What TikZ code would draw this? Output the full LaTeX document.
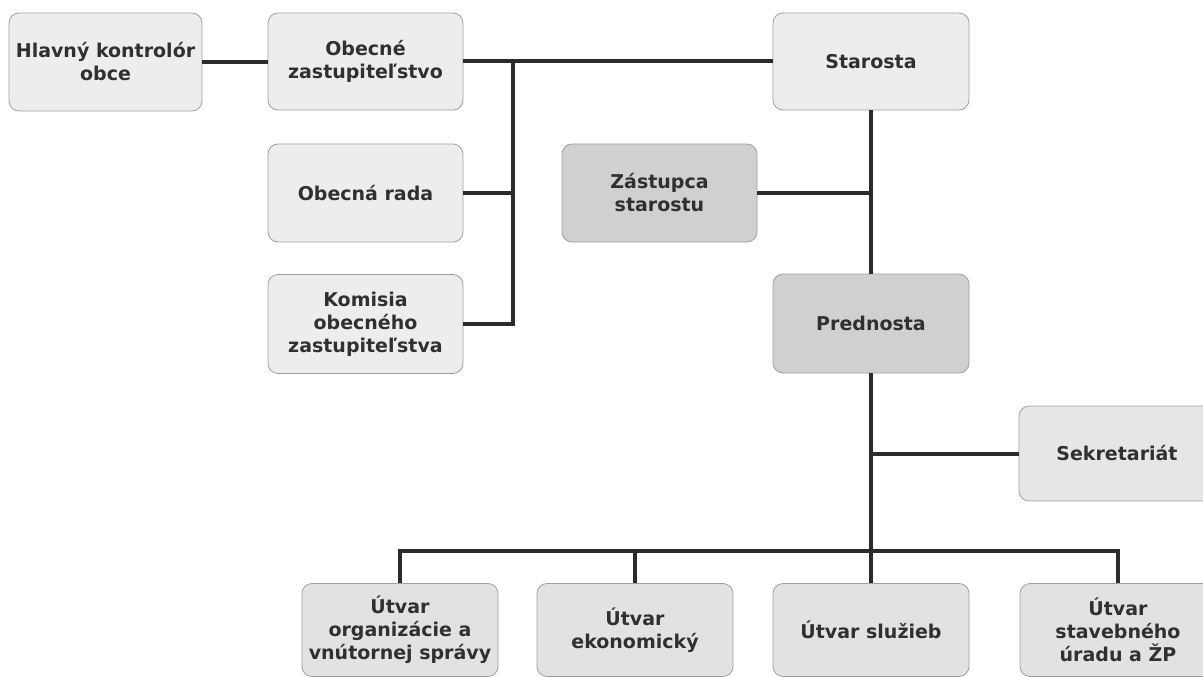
\documentclass[tikz,border=0pt]{standalone}
\usepackage{fontspec}
\setmainfont{DejaVu Sans}
\definecolor{lightbox}{HTML}{EDEDED}
\definecolor{darkbox}{HTML}{D0D0D0}
\definecolor{lowbox}{HTML}{E2E2E2}
\definecolor{secbox}{HTML}{E6E6E6}
\definecolor{boxline}{HTML}{A0A0A0}
\definecolor{conn}{HTML}{2B2B2B}
\definecolor{txt}{HTML}{303030}
\tikzset{
  orgbox/.style={rectangle, rounded corners=10pt, draw=boxline, line width=0.8pt,
    fill=lightbox, minimum width=195pt, minimum height=97pt, inner sep=2pt,
    align=center, text=txt, font=\fontsize{19}{23}\selectfont\bfseries},
  darkorg/.style={orgbox, fill=darkbox},
  loworg/.style={orgbox, fill=lowbox, minimum height=93pt},
  secorg/.style={orgbox, fill=secbox, minimum height=95pt},
  link/.style={draw=conn, line width=4pt}
}
\begin{document}
\begin{tikzpicture}[x=1pt, y=-1pt]
\clip (0,0) rectangle (1203,677);
\fill[white] (0,0) rectangle (1203,677);
% nodes
\node[orgbox, minimum width=193pt, minimum height=98pt] (hk) at (105.5,62) {Hlavný kontrolór\\obce};
\node[orgbox] (oz) at (365.5,61.5) {Obecné\\zastupiteľstvo};
\node[orgbox, minimum width=196pt] (st) at (871,61.5) {Starosta};
\node[orgbox, minimum height=98pt] (or) at (365.5,193) {Obecná rada};
\node[orgbox, minimum height=99pt] (kom) at (365.5,324) {Komisia\\obecného\\zastupiteľstva};
\node[darkorg, minimum height=98pt] (zs) at (659.5,193) {Zástupca\\starostu};
\node[darkorg, minimum width=196pt, minimum height=99pt] (pr) at (871,323.5) {Prednosta};
\node[secorg, minimum width=196pt] (sek) at (1117,453.5) {Sekretariát};
\node[loworg, minimum width=196pt] (u1) at (400,630) {Útvar\\organizácie a\\vnútornej správy};
\node[loworg, minimum width=196pt] (u2) at (635,630) {Útvar\\ekonomický};
\node[loworg, minimum width=196pt] (u3) at (871,630) {Útvar služieb};
\node[loworg, minimum width=196pt] (u4) at (1118,630) {Útvar\\stavebného\\úradu a ŽP};
% junctions
\coordinate (j1) at (513,62);
\coordinate (bus) at (871,551);
% connectors
\draw[link] (hk.east) -- (hk.east -| oz.west);
\draw[link] (oz.east) -- (st.west);
\draw[link] (j1) |- (kom.east);
\draw[link] (or.east) -- (or.east -| j1);
\draw[link] (st.south) -- (pr.north);
\draw[link] (zs.east) -- (zs.east -| st.south);
\draw[link] (pr.south) -- (u3.north);
\draw[link] (sek.west) -- (sek.west -| pr.south);
\draw[link] (u1.north) |- (bus) -| (u4.north);
\draw[link] (u2.north) -- (u2.north |- bus);
\end{tikzpicture}
\end{document}
